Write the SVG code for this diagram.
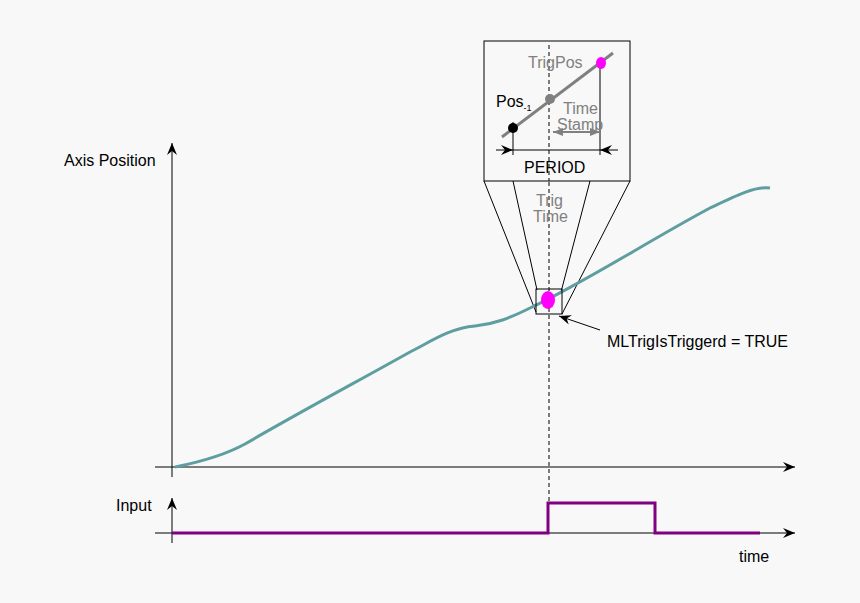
<svg xmlns="http://www.w3.org/2000/svg" width="860" height="603" viewBox="0 0 860 603">
<defs>
<marker id="ar" markerWidth="12" markerHeight="10" refX="12" refY="5" orient="auto" markerUnits="userSpaceOnUse"><path d="M0,0 L12,5 L0,10 L4,5 Z" fill="#000"/></marker>
<marker id="ag" markerWidth="10" markerHeight="8" refX="10" refY="4" orient="auto" markerUnits="userSpaceOnUse"><path d="M0,0 L10,4 L0,8 Z" fill="#808080"/></marker>
</defs>
<style>
text{font-family:"Liberation Sans",Arial,sans-serif;font-size:16px;fill:#000}
.g{fill:#808080}
.l{stroke:#000;stroke-width:1;fill:none}
</style>
<rect width="860" height="603" fill="#f8f8f8"/>
<g id="connectors">
<line class="l" x1="172" y1="477" x2="172" y2="143" marker-end="url(#ar)"/>
<line class="l" x1="155" y1="467" x2="795" y2="467" marker-end="url(#ar)"/>
<line class="l" x1="172" y1="543" x2="172" y2="498" marker-end="url(#ar)"/>
<line class="l" x1="155" y1="533" x2="795" y2="533" marker-end="url(#ar)"/>
<line class="l" x1="549" y1="70" x2="549" y2="503" stroke-dasharray="4,3"/>
<line class="l" x1="484" y1="181" x2="536" y2="312"/>
<line class="l" x1="513" y1="181" x2="537" y2="290"/>
<line class="l" x1="590" y1="181" x2="561" y2="292"/>
<line class="l" x1="630" y1="181" x2="562" y2="314"/>
<line class="l" x1="600" y1="330" x2="559" y2="316" marker-end="url(#ar)"/>
<path d="M175,467 C200,462 225,455 245,444 C300,412 360,380 410,352 C430,342 450,328 475,326 C495,324 510,318 530,308 C580,285 650,240 710,208 C735,196 755,186 770,188" fill="none" stroke="#5f9ea0" stroke-width="3"/>
<path d="M172,533 H548 V503 H655 V533 H760" fill="none" stroke="#800080" stroke-width="3"/>
</g>
<g id="zoombox">
<rect x="484" y="41" width="146" height="140" fill="#f8f8f8" stroke="#000"/>
<line x1="502" y1="137" x2="613" y2="53" stroke="#808080" stroke-width="3"/>
<line class="l" x1="513" y1="122" x2="513" y2="155"/>
<line class="l" x1="600" y1="63" x2="600" y2="155"/>
<line class="l" x1="549" y1="45" x2="549" y2="181" stroke-dasharray="4,3"/>
<line class="l" x1="496" y1="150" x2="513" y2="150" marker-end="url(#ar)"/>
<line class="l" x1="618" y1="150" x2="600" y2="150" marker-end="url(#ar)"/>
<line class="l" x1="513" y1="150" x2="600" y2="150"/>
<line x1="575" y1="132" x2="553" y2="132" stroke="#808080" stroke-width="2" marker-end="url(#ag)"/>
<line x1="575" y1="132" x2="600" y2="132" stroke="#808080" stroke-width="2" marker-end="url(#ag)"/>
<circle cx="513" cy="128" r="5" fill="#000"/>
<circle cx="550" cy="99" r="5" fill="#808080"/>
<ellipse cx="601" cy="63" rx="5" ry="6" fill="#ff00ff"/>
<text x="528" y="68" class="g" font-size="12">TrigPos</text>
<text x="496" y="107" font-size="13">Pos<tspan font-size="9" dy="4">-1</tspan></text>
<text x="563" y="114" class="g" font-size="13">Time</text>
<text x="557" y="130" class="g" font-size="13">Stamp</text>
<text x="524" y="173" font-size="13">PERIOD</text>
</g>
<g id="trigger">
<rect x="536" y="289" width="26" height="25" fill="none" stroke="#000"/>
<ellipse cx="548" cy="300" rx="7" ry="9" fill="#ff00ff"/>
<text x="536" y="206" class="g" font-size="13">Trig</text>
<text x="533" y="222" class="g" font-size="13">Time</text>
</g>
<text x="64" y="166">Axis Position</text>
<text x="116" y="511">Input</text>
<text x="739" y="562">time</text>
<text x="607" y="347">MLTrigIsTriggerd = TRUE</text>
</svg>
